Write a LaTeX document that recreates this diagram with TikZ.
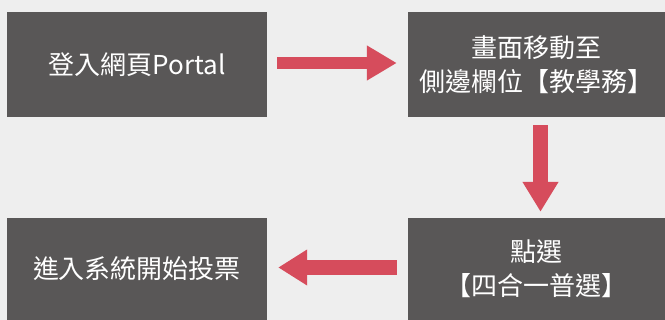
\documentclass[tikz,border=0pt]{standalone}
\usepackage{fontspec}
\newfontfamily\cjk{Noto Sans CJK TC}
\usetikzlibrary{arrows.meta}
\definecolor{bg}{HTML}{EEEEEE}
\definecolor{boxc}{HTML}{595757}
\definecolor{arr}{HTML}{D64C5C}
\begin{document}
\begin{tikzpicture}[x=1pt,y=-1pt,
  stepbox/.style={fill=boxc,text=white,inner sep=0pt,align=center,
    font=\cjk\fontsize{26}{34}\selectfont},
  flow/.style={draw=arr,line width=#1},
]
\fill[bg] (0,0) rectangle (665,320);
\useasboundingbox (0,0) rectangle (665,320);
\node[stepbox,minimum width=260pt,minimum height=105pt] (b1) at (137,64.5) {登入網頁Portal};
\node[stepbox,minimum width=257pt,minimum height=105pt] (b2) at (536.5,64.5) {畫面移動至\\側邊欄位【教學務】};
\node[stepbox,minimum width=257pt,minimum height=102pt] (b3) at (536.5,269) {點選\\【四合一普選】};
\node[stepbox,minimum width=260pt,minimum height=102pt] (b4) at (137,269) {進入系統開始投票};
\draw[flow=12pt,-{Triangle[length=30pt,width=33pt]},shorten <=10pt,shorten >=11pt] ([yshift=1.5pt]b1.east) -- ([yshift=1.5pt]b2.west);
\draw[flow=15pt,-{Triangle[length=30pt,width=34pt]},shorten <=8pt,shorten >=6pt] ([xshift=4pt]b2.south) -- ([xshift=4pt]b3.north);
\draw[flow=15pt,-{Triangle[length=29pt,width=34pt]},shorten <=11pt,shorten >=11pt] ([yshift=1.5pt]b3.west) -- ([yshift=1.5pt]b4.east);
\end{tikzpicture}
\end{document}
